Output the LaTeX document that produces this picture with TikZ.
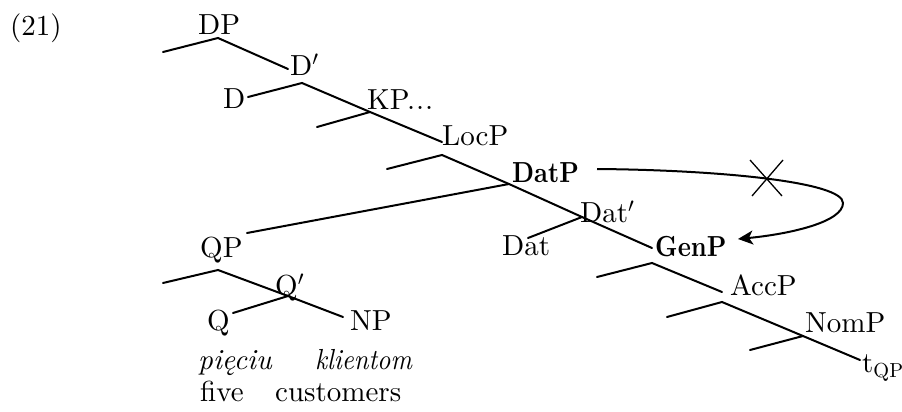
\documentclass[tikz,border=0pt]{standalone}
\usepackage{fontspec}
\setmainfont{lmroman10-regular.otf}[
  BoldFont=lmroman10-bold.otf,
  ItalicFont=lmroman10-italic.otf,
  BoldItalicFont=lmroman10-bolditalic.otf]
\usetikzlibrary{arrows.meta}
\begin{document}
\begin{tikzpicture}[x=1pt,y=-1pt,
  lbl/.style={inner sep=0pt,anchor=base west,font=\fontsize{29}{35}\selectfont},
  it/.style={font=\fontsize{29}{35}\selectfont\itshape},
  br/.style={line width=2pt,line cap=round},
  mv/.style={line width=2pt,-{Stealth[length=15pt,width=14pt,inset=4pt]}},
  cross/.style={line width=1.3pt}]
\useasboundingbox (0,0) rectangle (902,412);
\newcommand{\bfnarrow}[1]{\scalebox{0.86}[1]{\bfseries #1}}
\newcommand{\narrow}[1]{\scalebox{0.9}[1]{#1}}

% labels
\node[lbl] (ex) at (10,36) {(21)};
\node[lbl] (dp) at (198,35) {DP};
\node[lbl] (dbar) at (290,75) {D$'$};
\node[lbl] (d) at (223,108) {D};
\node[lbl] (kp) at (367,110) {KP{.}\kern1pt{.}\kern1pt{.}};
\node[lbl] (locp) at (442,145) {LocP};
\node[lbl] (datp) at (512,182) {\bfnarrow{DatP}};
\node[lbl] (datbar) at (580,222) {Dat$'$};
\node[lbl] (dat) at (502,255) {Dat};
\node[lbl] (genp) at (655,256) {\bfnarrow{GenP}};
\node[lbl] (accp) at (730,295) {AccP};
\node[lbl] (nomp) at (805,332) {NomP};
\node[lbl] (tqp) at (862,372) {t$_{\mathrm{QP}}$};
\node[lbl] (qp) at (200,257) {QP};
\node[lbl] (qbar) at (275,295) {Q$'$};
\node[lbl] (q) at (207,330) {Q};
\node[lbl] (np) at (350,330) {NP};
\node[lbl,it] (pieciu) at (198,369) {pięciu};
\node[lbl,it] (klientom) at (315,369) {\narrow{klientom}};
\node[lbl] (five) at (200,401) {five};
\node[lbl] (customers) at (275,401) {customers};

% branching points
\coordinate (dpj) at (218,38);
\coordinate (dbarj) at (302,83);
\coordinate (kpj) at (370,112);
\coordinate (locpj) at (442,155);
\coordinate (datpj) at (509,184);
\coordinate (datbarj) at (582,217);
\coordinate (genpj) at (652,263);
\coordinate (accpj) at (722,302);
\coordinate (nompj) at (803,336);
\coordinate (qpj) at (218,270);
\coordinate (qbarj) at (288,296);

% branch ends
\coordinate (dpl) at (163,52);
\coordinate (dbare) at (288,69);
\coordinate (de) at (248,97);
\coordinate (kpl) at (317,127);
\coordinate (locpe) at (442,142);
\coordinate (locpl) at (387,169);
\coordinate (qpe) at (247,233);
\coordinate (date) at (528,238);
\coordinate (genpe) at (652,248);
\coordinate (genpl) at (597,277);
\coordinate (accpe) at (722,292);
\coordinate (accpl) at (667,317);
\coordinate (nompl) at (750,350);
\coordinate (tqpe) at (860,360);
\coordinate (qpl) at (163,283);
\coordinate (qe) at (233,313);
\coordinate (npe) at (343,317);

% tree
\draw[br] (dpl) -- (dpj) -- (dbare);
\draw[br] (de) -- (dbarj) -- (kpj) -- (locpe);
\draw[br] (kpl) -- (kpj);
\draw[br] (locpl) -- (locpj) -- (datpj) -- (datbarj) -- (genpe);
\draw[br] (qpe) -- (datpj);
\draw[br] (date) -- (datbarj);
\draw[br] (genpl) -- (genpj) -- (accpe);
\draw[br] (accpl) -- (accpj) -- (nompj) -- (tqpe);
\draw[br] (nompl) -- (nompj);
\draw[br] (qpl) -- (qpj) -- (qbarj) -- (npe);
\draw[br] (qe) -- (qbarj);

% blocked movement
\coordinate (mvs) at (597,169);
\coordinate (mvt) at (738,239);
\draw[mv] (mvs) .. controls (720,170) and (843,182) .. (843,203)
  .. controls (843,222) and (790,234) .. (mvt);
\draw[cross] (750,160) -- (782,196) (783,160) -- (752,196);
\end{tikzpicture}
\end{document}
